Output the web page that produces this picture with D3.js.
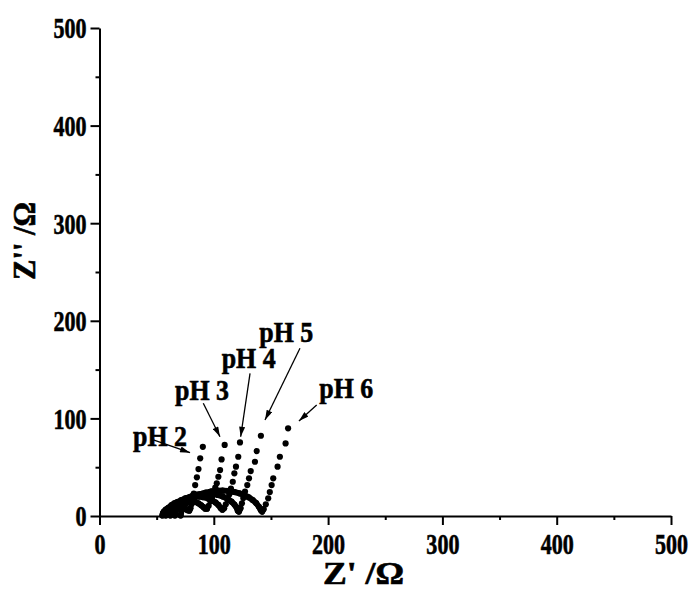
<!DOCTYPE html>
<html>
<head>
<meta charset="utf-8">
<script src="https://cdn.jsdelivr.net/npm/d3@7/dist/d3.min.js"></script>
<style>
  body { margin: 0; background: #fff; }
  text { font-family: "Liberation Serif", "Times New Roman", serif; font-weight: bold; fill: #000; stroke: #000; stroke-width: 0.6px; }
</style>
</head>
<body>
<div id="chart"></div>
<script>
'use strict';

// tick labels
var xTicks = [0, 100, 200, 300, 400, 500];
var yTicks = [0, 100, 200, 300, 400, 500];
var minorTicks = [50, 150, 250, 350, 450];

// series: high-frequency arc points and low-frequency tail points (Z', Z'')
var ph2Arc = [[55,0.5],[55.5,2.9],[56.5,4.8],[58,6.6],[60,8.1],[62.5,9.3],[65,9.9],[67.5,10],[70,9.7],[72.5,8.9],[75,7.5],[77,6],[78.5,5.5]];
var ph2Tail = [[79.5,8],[80.5,12],[81.5,17],[82.5,23],[83.7,31.7],[85.2,39.6],[86.6,48.1],[88.1,59.1],[90.4,70.9]];

var ph3Arc = [[58,0.5],[58.5,3.7],[59.5,6.4],[61,8.8],[63,11.1],[65.5,13],[68.5,14.5],[72,15.6],[76,16],[80,15.6],[83.5,14.5],[86.5,13],[89,11],[91,9],[92.5,7.5]];
var ph3Tail = [[94,7.5],[95.5,10.5],[97,15],[98.5,20],[100,25],[101.3,29],[102.6,33.5],[104,40.2],[105.5,47.1],[106.8,58],[109.5,72.8]];

var ph4Arc = [[62,0.5],[62.7,4.8],[64,8.2],[66,11.3],[68.5,13.9],[71.5,16.2],[75,18],[79,19.3],[83,19.9],[87,19.9],[91,19.3],[95,18],[98.5,16.2],[101.5,13.9],[104,11.3],[106,8.2],[107.5,6.5]];
var ph4Tail = [[109,8],[110.5,12],[112,17],[113.5,22],[115,28],[116.6,35.1],[118,43.7],[119.4,50.5],[121.4,60.7],[122.9,75.4]];

var ph5Arc = [[66,0.5],[66.8,5.5],[68.3,9.1],[70.5,12.5],[73.5,15.7],[77,18.3],[81,20.4],[85.5,21.9],[90,22.8],[94.5,23],[99,22.6],[103.5,21.6],[108,19.9],[112,17.6],[115.5,14.7],[118,11.8],[119.8,9],[121,5.5],[122,4.5]];
var ph5Tail = [[123.3,8],[124.6,13],[125.8,18.4],[127.3,25],[129.3,31.7],[130.8,38.6],[132.3,46],[136,55.6],[137.5,66.5],[141.2,82.2]];

var ph6Arc = [[71,0.5],[71.8,5.6],[73.5,9.6],[76,13.3],[79.5,16.9],[83.5,19.8],[88,22.2],[93,24],[98,25.2],[103,25.9],[108,26],[113,25.6],[118,24.6],[122.5,23.2],[126.5,21.5],[130.5,19.2],[134,16.4],[137,13.3],[139.5,9.5],[141.2,6],[142.3,4.5]];
var ph6Tail = [[143.5,7],[145.5,12],[147.6,18.1],[149,24.5],[150.6,31.7],[152,38.6],[155.8,50.5],[157.8,60.7],[162.8,74.4],[165,89.8]];

// annotations (data coords)
var labels = ["pH 2", "pH 3", "pH 4", "pH 5", "pH 6"];
var labelPos = [[29.3,71.7],[66.1,118.9],[106.9,151.3],[139.8,178.6],[192.3,120.6]];
var arrowFrom = [[47.1,77.9],[90.8,115.5],[131.7,146.2],[175.4,171.8],[190,113.7]];
var arrowTo = [[79.2,64.9],[105.4,81.2],[123.5,81.2],[144.8,98.4],[174.5,97.3]];

var series = [
    { arc: ph2Arc, tail: ph2Tail },
    { arc: ph3Arc, tail: ph3Tail },
    { arc: ph4Arc, tail: ph4Tail },
    { arc: ph5Arc, tail: ph5Tail },
    { arc: ph6Arc, tail: ph6Tail }
];

var width = 694, height = 592;

var x = d3.scaleLinear().domain([0, 500]).range([99.5, 671]);
var y = d3.scaleLinear().domain([0, 500]).range([516, 28]);

var svg = d3.select("#chart").append("svg")
    .attr("width", width)
    .attr("height", height);

svg.append("defs").append("marker")
    .attr("id", "arrow")
    .attr("viewBox", "0 0 10 6")
    .attr("markerUnits", "userSpaceOnUse")
    .attr("markerWidth", 11)
    .attr("markerHeight", 6)
    .attr("refX", 10)
    .attr("refY", 3)
    .attr("orient", "auto")
    .append("path")
    .attr("d", "M0,0L10,3L0,6Z")
    .attr("fill", "#000");

// minor ticks
svg.append("g")
    .attr("transform", "translate(0,516)")
    .call(d3.axisBottom(x).tickValues(minorTicks).tickSize(4).tickFormat(""))
    .call(function(g) { g.select(".domain").remove(); })
    .selectAll("line").attr("stroke-width", 2);

svg.append("g")
    .attr("transform", "translate(99.5,0)")
    .call(d3.axisLeft(y).tickValues(minorTicks).tickSize(4).tickFormat(""))
    .call(function(g) { g.select(".domain").remove(); })
    .selectAll("line").attr("stroke-width", 2);

// major axes
var xAxis = svg.append("g")
    .attr("class", "x axis")
    .attr("transform", "translate(0,516)")
    .call(d3.axisBottom(x).tickValues(xTicks).tickSize(9).tickSizeOuter(0));

var yAxis = svg.append("g")
    .attr("class", "y axis")
    .attr("transform", "translate(99.5,0)")
    .call(d3.axisLeft(y).tickValues(yTicks).tickSize(9).tickSizeOuter(0));

[xAxis, yAxis].forEach(function(g) {
    g.select(".domain").attr("stroke-width", 2);
    g.selectAll(".tick line").attr("stroke-width", 2);
    g.selectAll(".tick text")
        .attr("font-family", null)
        .style("font-size", "29px");
});

// condensed tick numbers
xAxis.selectAll(".tick text")
    .attr("y", 0).attr("dy", 0)
    .attr("transform", "translate(0,38) scale(0.76,1)");
yAxis.selectAll(".tick text")
    .attr("x", 0).attr("dy", "0.34em")
    .attr("transform", "translate(-13,0) scale(0.76,1)");

// axis titles
svg.append("text")
    .attr("x", 363.5)
    .attr("y", 584)
    .attr("text-anchor", "middle")
    .attr("textLength", 81)
    .attr("lengthAdjust", "spacingAndGlyphs")
    .style("font-size", "31px")
    .text("Z' /Ω");

svg.append("text")
    .attr("transform", "translate(35,241) rotate(-90)")
    .attr("text-anchor", "middle")
    .attr("textLength", 78)
    .attr("lengthAdjust", "spacingAndGlyphs")
    .style("font-size", "31px")
    .text("Z'' /Ω");

// data
var line = d3.line()
    .x(function(d) { return x(d[0]); })
    .y(function(d) { return y(d[1]); });

var plot = svg.append("g");

series.forEach(function(s) {
    plot.append("path")
        .datum(s.arc.concat([s.tail[0]]))
        .attr("d", line)
        .attr("fill", "none")
        .attr("stroke", "#000")
        .attr("stroke-width", 6)
        .attr("stroke-linejoin", "round")
        .attr("stroke-linecap", "round");

    plot.selectAll(null)
        .data(s.arc.concat(s.tail))
        .enter().append("circle")
        .attr("cx", function(d) { return x(d[0]); })
        .attr("cy", function(d) { return y(d[1]); })
        .attr("r", 3.1)
        .attr("fill", "#000");
});

// labels with arrows
labels.forEach(function(t, i) {
    svg.append("line")
        .attr("x1", x(arrowFrom[i][0]))
        .attr("y1", y(arrowFrom[i][1]))
        .attr("x2", x(arrowTo[i][0]))
        .attr("y2", y(arrowTo[i][1]))
        .attr("stroke", "#000")
        .attr("stroke-width", 1.3)
        .attr("marker-end", "url(#arrow)");

    svg.append("text")
        .attr("x", x(labelPos[i][0]))
        .attr("y", y(labelPos[i][1]))
        .attr("textLength", 54)
        .attr("lengthAdjust", "spacingAndGlyphs")
        .style("font-size", "30px")
        .text(t);
});
</script>
</body>
</html>
